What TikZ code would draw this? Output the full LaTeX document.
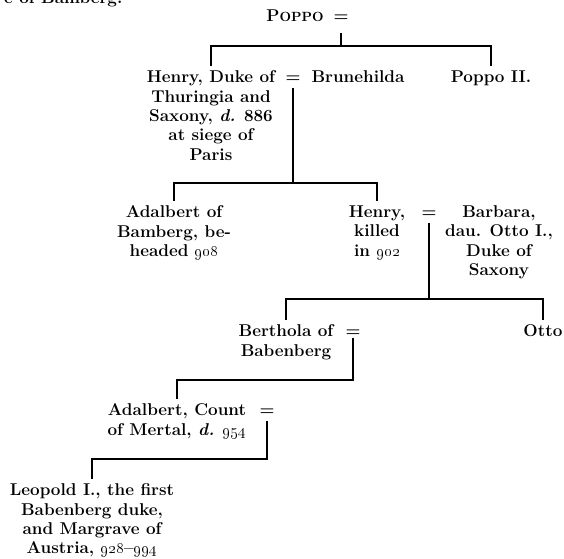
\documentclass[tikz,border=0pt]{standalone}
\usetikzlibrary{calc,positioning}

\begin{document}
\begin{tikzpicture}[x=0.75pt,y=-0.75pt,inner sep=0pt,line width=0.9pt,
  every node/.style={font=\fontsize{12.8}{14.6}\selectfont\bfseries,align=center,anchor=north}]
\useasboundingbox (0,0) rectangle (564,558);
\node (head) [anchor=base east] at (123,3) {e of Bamberg.};

\node (poppo) at (295,9) {P{\fontsize{10}{12}\selectfont OPPO}};
\node (eq0) [anchor=base] at (341,21) {=};
\node (henry) at (211,70) {Henry, Duke of\\Thuringia and\\Saxony, \textit{d.} 886\\at siege of\\Paris};
\node (eq1) [anchor=base] at (293,82) {=};
\node (brunehilda) at (358,70) {Brunehilda};
\node (poppo2) at (491,70) {Poppo II.};
\node (adalbert) at (174,205) {Adalbert of\\Bamberg, be-\\headed \oldstylenums{908}};
\node (henry2) at (377,205) {Henry,\\killed\\in \oldstylenums{902}};
\node (eq2) [anchor=base] at (429,217) {=};
\node (barbara) at (499,205) {Barbara,\\dau. Otto I.,\\Duke of\\Saxony};
\node (berthola) at (286,324) {Berthola of\\Babenberg};
\node (eq3) [anchor=base] at (353,336) {=};
\node (otto) [anchor=north east] at (563,324) {Otto};
\node (adalbert2) at (177,403) {Adalbert, Count\\of Mertal, \textit{d.} \oldstylenums{954}};
\node (eq4) [anchor=base] at (267,415) {=};
\node (leopold) at (92,483) {Leopold I., the first\\Babenberg duke,\\and Margrave of\\Austria, \oldstylenums{928}--\oldstylenums{994}};

\coordinate (j0) at (341,46);
\coordinate (j1) at (293,183);
\coordinate (j2) at (429,299);
\coordinate (j3) at (353,380);
\coordinate (j4) at (267,459);

\draw ($(eq0.south)+(0,11)$) -- (j0);
\draw ($(henry.north)+(0,-4)$) -- (henry.north |- j0) -- (poppo2.north |- j0) -- ($(poppo2.north)+(0,-4)$);
\draw ($(eq1.south)+(0,5)$) -- (j1);
\draw ($(adalbert.north)+(0,-4)$) -- (adalbert.north |- j1) -- (henry2.north |- j1) -- ($(henry2.north)+(0,-4)$);
\draw ($(eq2.south)+(0,5)$) -- (j2);
\draw ($(berthola.north)+(0,-4)$) -- (berthola.north |- j2) -- (otto.north |- j2) -- ($(otto.north)+(0,-4)$);
\draw ($(eq3.south)+(0,1)$) -- (j3) -- (adalbert2.north |- j3) -- ($(adalbert2.north)+(0,-4)$);
\draw ($(eq4.south)+(0,5)$) -- (j4) -- (leopold.north |- j4) -- ($(leopold.north)+(0,-4)$);
\end{tikzpicture}
\end{document}
